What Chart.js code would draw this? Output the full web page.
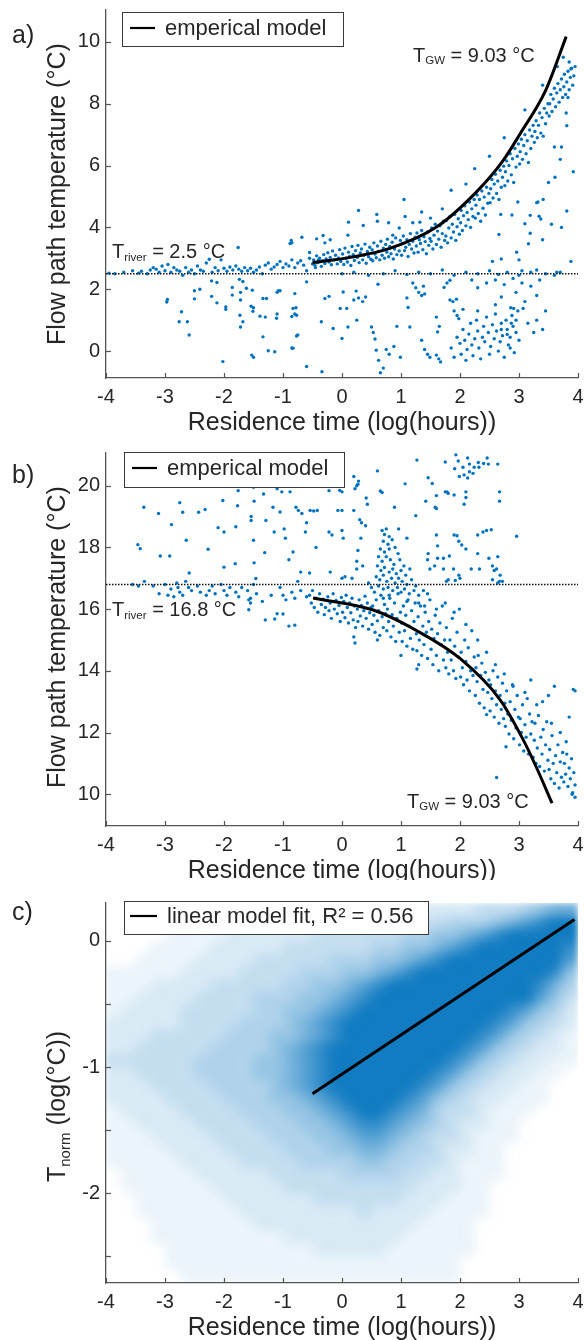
<!DOCTYPE html>
<html>
<head>
<meta charset="utf-8">
<title>Flow path temperature vs residence time</title>
<script src="https://cdn.jsdelivr.net/npm/chart.js@4.4.1/dist/chart.umd.min.js"></script>
<style>
  html, body { margin: 0; padding: 0; background: #fff; }
  body { position: relative; width: 584px; height: 1340px; overflow: hidden; }
  canvas { position: absolute; left: 0; }
</style>
</head>
<body>
<canvas id="chart-a" width="584" height="440" style="top:0px"></canvas>
<canvas id="chart-b" width="584" height="440" style="top:440px"></canvas>
<canvas id="chart-c" width="584" height="460" style="top:880px"></canvas>
<script>
// ---------------- data ----------------

// panel a) : points hugging the river temperature line
const aRiverPts = [[-3.95,2.52],[-3.85,2.5],[-3.7,2.55],[-3.55,2.6],[-3.45,2.52],[-3.4,2.58],[-3.3,2.5],[-3.25,2.62],[-3.2,2.7],[-3.15,2.65],[-3.1,2.55],[-3.05,2.75],[-3.0,2.6],[-2.95,2.8],[-2.9,2.55],[-2.85,2.7],[-2.8,2.62],[-2.75,2.58],[-2.7,2.45],[-2.65,2.7],[-2.6,2.55],[-2.55,2.62],[-2.5,2.5],[-2.45,2.75],[-2.4,2.62],[-2.35,2.58],[-2.3,2.85],[-2.25,2.97],[-2.2,2.55],[-2.15,2.7],[-2.1,2.6],[-2.05,2.95],[-2.0,2.68],[-1.95,2.58],[-1.9,2.72],[-1.85,2.62],[-1.8,2.75],[-1.75,2.65],[-1.7,2.58],[-1.65,2.7],[-1.6,2.6],[-1.55,2.68],[-1.5,2.55],[-1.45,2.62],[-1.4,2.72],[-1.35,2.5],[-1.3,2.78],[-1.25,2.85],[-1.2,2.65],[-1.15,2.72],[-1.1,2.8],[-1.05,2.9],[-1.0,2.7],[-0.95,2.82],[-0.9,2.75],[-0.85,2.95],[-0.8,2.7],[-0.75,2.85],[-0.7,2.92],[-0.65,2.78],[-0.6,2.6],[-0.55,3.0],[-0.5,2.82],[-0.45,2.7],[-0.4,2.95]]

// panel a) : main band just under the model curve
const aBandPts = [[-0.48,2.95],[-0.46,2.78],[-0.43,3.08],[-0.41,2.86],[-0.38,3.0],[-0.35,2.74],[-0.33,2.92],[-0.31,3.12],[-0.29,2.83],[-0.27,2.98],
[-0.24,3.18],[-0.22,2.88],[-0.2,3.03],[-0.18,2.79],[-0.16,3.24],[-0.13,2.95],[-0.11,3.1],[-0.08,2.82],[-0.06,3.01],[-0.04,3.28],[-0.02,2.9],
[0.01,3.14],[0.03,2.8],[0.05,3.33],[0.07,3.0],[0.09,2.88],[0.11,3.2],[0.13,3.06],[0.15,2.77],[0.17,3.38],[0.19,3.12],[0.21,2.93],[0.23,3.25],
[0.26,3.03],[0.27,3.42],[0.29,2.86],[0.31,3.17],[0.33,3.3],[0.35,2.95],[0.37,3.1],[0.39,3.46],[0.41,2.84],[0.43,3.22],[0.45,3.05],[0.47,3.36],[0.49,2.97],
[0.51,3.28],[0.52,2.92],[0.54,3.5],[0.56,3.14],[0.58,3.02],[0.6,3.4],[0.62,3.22],[0.64,2.95],[0.66,3.55],[0.68,3.1],[0.7,3.33],[0.72,3.0],[0.74,3.45],
[0.76,3.2],[0.77,3.62],[0.79,3.05],[0.81,3.38],[0.83,3.15],[0.85,3.52],[0.87,2.98],[0.89,3.3],[0.91,3.66],[0.93,3.12],[0.95,3.42],[0.97,3.24],[0.99,3.58],
[1.01,3.1],[1.02,3.48],[1.04,3.72],[1.06,3.25],[1.08,3.36],[1.1,3.6],[1.12,3.06],[1.14,3.45],[1.16,3.8],[1.18,3.3],[1.2,3.55],[1.22,3.17],[1.24,3.68],
[1.26,3.4],[1.27,3.82],[1.29,3.2],[1.31,3.6],[1.33,3.48],[1.35,3.9],[1.37,3.28],[1.39,3.7],[1.41,3.54],[1.43,3.15],[1.45,3.85],[1.47,3.42],[1.49,3.64],
[1.51,3.55],[1.52,3.98],[1.54,3.3],[1.56,3.75],[1.58,4.1],[1.6,3.45],[1.62,3.88],[1.64,3.62],[1.66,4.05],[1.68,3.36],[1.7,3.8],[1.72,4.18],[1.74,3.58],
[1.76,3.72],[1.77,4.22],[1.79,3.5],[1.81,3.98],[1.83,4.35],[1.85,3.66],[1.87,4.1],[1.89,3.85],[1.91,4.42],[1.93,3.58],[1.95,4.02],[1.97,4.28],[1.99,3.78],
[2.01,4.15],[2.02,4.55],[2.04,3.9],[2.06,4.38],[2.08,4.7],[2.1,4.05],[2.12,4.48],[2.14,4.25],[2.16,4.82],[2.18,4.0],[2.2,4.6],[2.22,4.35],[2.24,4.9],
[2.26,4.3],[2.27,4.72],[2.29,5.05],[2.31,4.45],[2.33,4.9],[2.35,4.2],[2.37,5.18],[2.39,4.62],[2.41,4.98],[2.43,4.4],[2.45,5.3],[2.47,4.78],[2.49,5.1],
[2.51,4.8],[2.52,5.25],[2.54,5.55],[2.56,4.95],[2.58,5.4],[2.6,5.72],[2.62,5.1],[2.64,5.5],[2.66,4.9],[2.68,5.85],[2.7,5.3],[2.72,5.62],[2.74,5.98],
[2.76,5.35],[2.77,5.8],[2.79,6.15],[2.81,5.5],[2.83,6.0],[2.85,6.38],[2.87,5.7],[2.89,6.22],[2.91,5.45],[2.93,6.55],[2.95,5.95],[2.97,6.3],[2.99,6.7],
[3.01,6.05],[3.02,6.45],[3.04,6.85],[3.06,6.2],[3.08,6.65],[3.1,7.0],[3.12,6.38],[3.14,6.8],[3.16,6.1],[3.18,7.15],[3.2,6.55],[3.22,6.95],[3.24,7.3],
[3.26,6.75],[3.27,7.1],[3.29,7.45],[3.31,6.9],[3.33,7.3],[3.35,7.7],[3.37,7.05],[3.39,7.55],[3.41,6.95],[3.43,7.85],[3.45,7.35],[3.47,7.7],[3.49,8.0],
[3.51,7.6],[3.52,8.0],[3.54,8.3],[3.56,7.75],[3.58,8.15],[3.6,8.5],[3.62,7.9],[3.64,8.35],[3.66,8.65],[3.68,8.05],[3.7,8.45],[3.72,8.8],[3.74,8.2],
[3.76,8.55],[3.77,8.95],[3.79,8.3],[3.81,8.7],[3.83,9.05],[3.85,8.45],[3.87,8.85],[3.89,9.15],[3.91,8.6],[3.93,8.9],[3.95,9.2]]

// panel a) : scattered points above the band and right of it
const aAbovePts = [[-1.76,3.35],[-0.88,3.48],[-0.86,3.58],[-0.85,3.5],[-0.68,3.68],[-0.55,3.19],[-0.43,3.63],[-0.32,3.74],[-0.29,3.5],[-0.2,3.6],[0.1,3.75],[0.11,4.17],[0.28,4.55],[0.36,4.06],[0.59,4.42],[0.6,4.2],[0.79,4.15],[0.86,3.75],[0.97,3.98],[1.07,4.35],[1.05,4.9],[1.2,4.15],[1.32,4.17],[1.35,4.5],[1.5,4.3],[1.72,4.2],[1.7,4.6],[1.85,5.2],[2.1,5.4],[2.25,5.9],[2.5,6.3],[2.75,6.9],[3.1,7.8],[3.4,8.6],[3.65,9.2],[3.75,9.5],[3.85,9.35],
[3.88,9.12],[3.83,8.2],[3.8,7.7],[3.81,7.29],[3.6,6.6],[3.72,6.6],[3.7,6.2],[3.61,5.62],[3.5,5.45],[3.92,5.8],[3.81,4.53],[3.41,4.9],[3.3,4.8],[3.32,4.82],[3.19,4.39],[2.98,4.82],[2.88,4.4],[2.69,4.42],[3.34,4.36],[3.37,4.27],[3.1,4.12],[3.19,3.81],[3.16,3.47],[2.66,3.77],[2.96,3.2],[3.0,2.95],[2.7,2.98],[2.55,2.9],[3.55,4.1],[3.72,4.0],[3.4,3.6]]

// panel a) : scattered points below the river line
const aBelowPts = [[-2.97,1.59],[-2.96,1.67],[-2.72,1.27],[-2.76,0.95],[-2.62,0.95],[-2.59,0.52],[-2.5,1.95],[-2.5,1.69],[-2.41,2.0],[-2.21,2.27],[-2.12,2.22],[-2.21,1.77],[-2.12,1.56],[-1.97,1.43],[-1.97,1.35],[-2.02,-0.34],[-1.86,2.06],[-1.86,1.81],[-1.74,2.32],[-1.68,2.25],[-1.62,2.03],[-1.72,1.9],[-1.72,1.65],[-1.73,1.16],[-1.68,0.95],[-1.72,0.78],[-1.54,1.45],[-1.5,1.4],[-1.51,1.29],[-1.52,1.97],[-1.39,1.13],[-1.34,0.46],[-1.53,-0.13],[-1.5,-0.2],[-1.34,1.7],[-1.28,1.7],[-1.3,1.1],[-1.25,0.01],[-1.14,-0.02],[-1.11,1.06],[-1.1,1.2],[-1.1,1.9],[-1.08,1.95],[-1.05,1.95],[-0.85,0.1],[-0.85,1.12],[-0.8,1.2],[-0.78,1.4],[-0.75,0.52],
[-0.6,2.24],[-0.8,1.86],[-0.83,1.38],[-0.77,1.16],[-0.83,0.09],[-0.77,0.49],[-0.6,-0.5],[-0.34,-0.67],[-0.29,1.7],[-0.22,1.77],[-0.35,0.95],[-0.15,0.73],[-0.03,1.38],[0.0,0.41],[0.08,1.38],[0.02,1.91],[0.1,0.78],[0.2,1.65],[0.28,1.72],[0.35,1.6],[0.4,1.75],[0.24,1.94],[0.5,0.78],[0.53,0.6],[0.56,0.39],[0.25,1.0],[0.61,2.16],
[0.58,0.03],[0.62,-0.3],[0.75,0.05],[0.8,-0.1],[0.88,0.15],[0.7,-0.55],[0.65,-0.7],[0.99,-0.2],[0.93,0.8],[1.1,1.72],[1.12,1.41],[1.15,0.78],[1.2,2.2],[1.25,2.05],[1.3,1.9],[1.35,1.8],[1.38,2.1],[1.4,1.85],[1.35,0.35],[1.4,0.05],[1.45,-0.1],[1.49,-0.2],[1.6,1.1],[1.62,0.62],[1.65,0.8],[1.6,-0.13],[1.64,-0.25],[1.67,-0.35],[1.73,2.06],[1.78,2.2],[1.83,2.29],[1.83,1.65],[1.88,1.6],[1.94,1.68],[1.9,1.3],[1.95,1.15],[1.98,1.05],
[1.85,0.1],[1.9,-0.2],[1.95,0.45],[2.0,0.25],[2.02,-0.1],[2.05,0.7],[2.08,0.35],[2.1,-0.3],[2.12,0.05],[2.15,0.55],[2.18,0.9],[2.2,0.2],[2.22,-0.15],[2.25,0.4],[2.28,1.0],[2.3,0.65],[2.32,0.1],[2.35,-0.25],[2.38,0.45],[2.4,0.8],[2.42,0.3],[2.45,1.1],[2.48,0.6],[2.5,-0.1],[2.52,0.15],[2.55,0.85],[2.58,0.4],[2.6,1.2],[2.62,0.65],[2.65,0.0],[2.68,0.3],[2.7,0.9],[2.72,0.5],[2.75,-0.2],[2.78,1.0],[2.8,0.7],[2.82,0.2],[2.85,0.45],[2.88,1.15],[2.9,0.8],[2.92,-0.05],[2.95,0.6],[2.98,1.3],[3.0,0.35],[2.86,1.4],[2.6,1.5],[2.3,1.3],[2.05,1.35],
[3.07,1.38],[2.95,1.0],[2.87,0.9],[2.91,1.38],[2.8,0.54],[2.7,0.7],[2.85,0.1],
[0.0,2.5],[0.2,2.55],[0.45,2.45],[0.7,2.5],[0.9,2.6],[1.1,2.48],[1.3,2.55],[1.5,2.5],[1.7,2.62],[1.9,2.45],[2.1,2.55],[2.3,2.5],[2.5,2.6],[2.65,2.48],[2.8,2.55],[3.0,2.45],[3.2,2.55],[3.45,2.5],[3.6,2.45],[3.05,2.6],[3.3,2.62],[3.64,2.55],[3.88,2.9],[3.7,2.55],
[2.6,2.3],[2.75,2.15],[2.9,2.35],[3.05,2.2],[3.2,2.1],[3.35,2.3],[2.45,2.2],[2.3,2.05],[2.2,2.3],[3.3,1.8],[3.1,1.6],[2.95,1.9],[2.7,1.75],[3.45,1.3],[3.3,1.0],[3.25,0.6],[3.15,0.9],[3.4,0.7]]

const aModelX = [-0.5, 0.14, 0.81, 1.6, 2.28, 2.73, 3.02, 3.45, 3.8]
const aModelY = [2.86, 3.03, 3.32, 4.01, 5.15, 6.16, 7.03, 8.42, 10.17]
const aRiverT = 2.5

// panel b) : points near the river temperature line
const bRiverPts = [[-3.55,16.8],[-3.45,16.75],[-3.35,16.9],[-3.2,16.75],[-3.1,16.5],[-3.0,16.8],[-2.95,16.45],[-2.9,16.65],[-2.85,16.4],[-2.8,16.85],[-2.78,16.7],[-2.75,16.55],[-2.7,16.45],[-2.65,16.9],[-2.6,16.7],[-2.55,16.6],[-2.45,16.75],[-2.4,16.55],[-2.3,16.45],[-2.25,16.6],[-2.2,16.75],[-2.15,16.5],[-2.05,16.8],[-2.0,16.6],[-1.95,16.45],[-1.9,16.7],[-1.8,16.55],[-1.75,16.4],[-1.7,16.7],[-1.6,16.6],[-1.55,16.35],[-1.5,16.8],[-1.45,16.5],[-1.35,16.25],[-1.3,15.65],[-1.2,16.45],[-1.1,15.85],[-1.05,16.7],[-1.0,16.45],[-0.95,16.3],[-0.9,15.45],[-0.85,16.55],[-0.8,16.35],[-0.75,16.9],[-0.7,16.6],[-0.6,16.4],[-1.58,16.3],[-1.55,16.2],[-1.58,15.98],[-0.8,15.48],[-1.14,15.68],[-1.0,15.84]]

// panel b) : scattered points above the river line
const bAbovePts = [[-3.46,18.09],[-3.42,17.96],[-3.36,19.3],[-3.11,19.1],[-3.08,17.72],[-2.92,17.72],[-2.89,18.74],[-2.75,19.45],[-2.7,19.14],[-2.64,18.23],[-2.59,17.17],[-2.43,19.14],[-2.32,19.23],[-2.27,17.94],[-2.1,18.64],[-2.02,19.52],[-2.0,17.36],[-2.0,18.5],[-1.81,17.47],[-1.8,18.67],[-1.77,19.35],[-1.76,19.84],[-1.54,19.0],[-1.54,18.87],[-1.5,18.23],[-1.49,19.5],[-1.5,19.95],[-1.49,17.5],[-1.46,16.99],[-1.31,17.83],[-1.29,18.87],[-1.33,19.73],[-1.17,19.3],[-1.16,20.1],[-1.15,18.5],[-1.1,19.9],[-1.05,19.15],[-1.02,19.8],[-0.98,18.6],[-0.96,18.3],[-0.83,17.85],[-0.78,19.3],
[1.27,20.83],[1.75,20.77],[1.93,21.0],[1.97,20.8],[2.05,20.6],[2.13,20.9],[2.16,20.7],[2.24,20.6],[2.31,20.75],[2.32,20.6],[2.4,20.72],[2.46,20.9],[2.48,20.7],[2.64,20.7],[1.91,20.55],[1.99,20.3],[2.07,20.35],[2.16,20.45],[2.22,20.4],[2.13,20.25],[0.6,20.48],[0.2,20.3],[0.28,20.15],[0.25,20.0],[0.22,19.9],[0.27,20.05],[-0.22,19.84],[-0.04,19.85],[0.0,19.8],[1.07,20.06],[1.46,20.26],[1.53,20.07],[0.65,19.83],[0.68,19.78],[1.75,19.8],[1.78,19.8],[1.8,19.75],[1.6,19.68],[1.58,19.3],[1.6,19.26],[1.9,19.7],[2.1,19.8],[2.1,19.62],[2.07,19.4],[2.67,19.8],[2.67,19.5],[1.42,19.5],[0.41,19.6],[0.43,19.4],[-0.88,19.8],[-0.74,19.2],[-0.68,19.1],[-0.54,19.2],[-0.48,19.18],[-0.42,19.2],[-0.07,19.2],[0.0,19.2],[0.2,19.2],[0.89,19.3],[1.25,19.03],
[0.3,18.9],[0.33,18.8],[0.4,18.7],[-0.6,18.8],[-0.62,18.5],[-0.22,18.5],[-0.17,18.4],[0.0,18.55],[0.02,18.3],[0.32,18.3],[0.96,18.6],[1.6,18.4],[1.62,18.05],[1.9,18.4],[1.95,18.38],[1.98,18.2],[2.03,18.08],[2.1,17.95],[2.3,18.4],[2.39,18.5],[2.45,18.55],[2.53,18.57],[2.96,18.36],[-0.7,17.2],[-0.55,17.17],[-0.9,17.6],[-0.44,18.0],[-0.2,17.2],[0.0,17.0],[0.05,17.05],[0.17,17.0],[0.25,17.3],[0.35,17.4],[0.25,17.55],[0.27,17.9],[1.1,18.3],[1.46,17.8],[1.45,17.6],[1.62,17.65],[1.72,17.65],[1.82,17.72],[1.57,17.4],[1.49,17.3],[1.72,17.3],[1.89,17.3],[1.98,17.1],[2.0,17.0],[1.8,16.95],[1.77,16.9],[1.92,16.93],[2.3,17.8],[2.33,17.3],[2.19,17.3],[2.55,17.4],[2.58,17.25],[2.62,17.3],[2.68,17.1],[2.72,16.9],[2.49,17.65],[2.64,17.7],[2.55,16.95],[2.64,16.85],[2.67,16.9]]

// panel b) : the vertical plume around 0.5 - 1.3
const bSpikePts = [[0.68,18.55],[0.72,18.42],[0.75,18.6],[0.8,18.35],[0.7,18.2],[0.78,18.1],[0.85,18.25],[0.65,17.95],[0.72,17.85],[0.8,17.95],[0.9,18.0],[0.95,17.8],[0.62,17.7],[0.68,17.55],[0.75,17.7],[0.82,17.6],[0.88,17.45],[0.98,17.6],[1.05,17.4],[0.6,17.4],[0.66,17.25],[0.72,17.35],[0.8,17.2],[0.86,17.3],[0.92,17.15],[1.0,17.25],[1.08,17.1],[1.15,17.3],[0.58,17.05],[0.64,16.95],[0.7,17.1],[0.76,16.9],[0.84,17.0],[0.9,16.85],[0.96,17.0],[1.02,16.9],[1.1,16.8],[1.18,16.95],[1.25,16.75],[0.62,16.75],[0.7,16.65],[0.78,16.7],[0.86,16.6],[0.94,16.7],[1.0,16.55],[1.06,16.65],[1.14,16.5],[1.22,16.6],[1.3,16.45],[1.38,16.6],[1.45,16.5],[0.55,16.55],[0.5,16.7],[0.45,16.85]]

// panel b) : main band along the model curve
const bBandPts = [[-0.55,16.45],[-0.52,16.2],[-0.5,16.6],[-0.47,16.05],[-0.44,16.35],[-0.41,15.9],[-0.38,16.5],[-0.35,16.15],[-0.32,16.32],[-0.3,15.82],[-0.28,16.05],
[-0.24,16.4],[-0.22,15.95],[-0.2,16.2],[-0.18,15.7],[-0.15,16.5],[-0.13,16.0],[-0.1,16.28],[-0.08,15.85],[-0.05,16.12],[-0.03,15.6],[-0.01,16.38],
[0.01,15.9],[0.03,16.25],[0.05,15.72],[0.07,16.45],[0.09,16.05],[0.11,15.55],[0.13,16.2],[0.15,15.88],[0.17,16.35],[0.19,15.65],[0.21,16.1],[0.23,15.4],
[0.26,16.0],[0.27,15.6],[0.29,16.3],[0.31,15.78],[0.33,16.12],[0.35,15.45],[0.37,15.95],[0.39,16.42],[0.41,15.7],[0.43,16.2],[0.45,15.35],[0.47,15.88],[0.49,16.05],
[0.51,15.5],[0.52,16.1],[0.54,15.8],[0.56,15.25],[0.58,16.3],[0.6,15.62],[0.62,15.95],[0.64,15.15],[0.66,16.45],[0.68,15.75],[0.7,15.4],[0.72,16.15],[0.74,15.85],
[0.76,15.3],[0.77,16.0],[0.79,15.6],[0.81,16.35],[0.83,15.1],[0.85,15.82],[0.87,15.45],[0.89,16.2],[0.91,14.95],[0.93,15.7],[0.95,16.5],[0.97,15.25],[0.99,15.9],
[1.01,15.55],[1.02,14.95],[1.04,16.1],[1.06,15.3],[1.08,15.8],[1.1,14.8],[1.12,16.3],[1.14,15.45],[1.16,15.05],[1.18,15.95],[1.2,14.7],[1.22,15.6],[1.24,16.2],
[1.26,15.2],[1.27,14.65],[1.29,15.75],[1.31,15.0],[1.33,16.1],[1.35,14.5],[1.37,15.45],[1.39,14.85],[1.41,15.9],[1.43,15.25],[1.45,14.4],[1.47,15.6],[1.49,16.3],
[1.51,14.7],[1.52,15.35],[1.54,14.2],[1.56,15.05],[1.58,15.8],[1.6,14.5],[1.62,15.2],[1.64,14.0],[1.66,15.55],[1.68,14.85],[1.7,16.1],[1.72,14.35],[1.74,15.0],
[1.76,14.1],[1.77,15.4],[1.79,14.6],[1.81,13.9],[1.83,15.0],[1.85,14.35],[1.87,15.7],[1.89,14.0],[1.91,14.8],[1.93,13.75],[1.95,15.25],[1.97,14.45],[1.99,16.0],
[2.01,13.8],[2.02,14.6],[2.04,14.1],[2.06,13.55],[2.08,15.0],[2.1,14.3],[2.12,13.7],[2.14,14.75],[2.16,13.35],[2.18,14.0],[2.2,15.3],[2.22,13.85],[2.24,14.45],
[2.26,13.2],[2.27,14.1],[2.29,13.65],[2.31,14.5],[2.33,12.95],[2.35,13.85],[2.37,14.25],[2.39,13.4],[2.41,12.8],[2.43,13.95],[2.45,14.6],[2.47,13.3],[2.49,13.7],
[2.51,12.7],[2.52,13.55],[2.54,13.1],[2.56,14.0],[2.58,12.5],[2.6,13.35],[2.62,12.9],[2.64,13.8],[2.66,12.3],[2.68,13.2],[2.7,12.75],[2.72,13.6],[2.74,12.45],
[2.76,12.95],[2.77,12.2],[2.79,13.35],[2.81,12.6],[2.83,11.95],[2.85,13.0],[2.87,12.4],[2.89,13.55],[2.91,11.8],[2.93,12.75],[2.95,12.15],[2.97,13.2],[2.99,12.5],
[3.01,11.6],[3.02,12.45],[3.04,12.0],[3.06,12.9],[3.08,11.4],[3.1,12.25],[3.12,11.85],[3.14,13.1],[3.16,11.3],[3.18,12.6],[3.2,11.95],[3.22,12.35],[3.24,11.2],
[3.26,11.75],[3.27,12.3],[3.29,11.0],[3.31,11.5],[3.33,12.55],[3.35,10.9],[3.37,11.85],[3.39,11.3],[3.41,12.1],[3.43,10.75],[3.45,11.6],[3.47,12.35],[3.49,11.1],
[3.51,10.8],[3.52,11.45],[3.54,10.5],[3.56,11.9],[3.58,11.0],[3.6,10.35],[3.62,11.25],[3.64,10.7],[3.66,11.6],[3.68,10.2],[3.7,11.05],[3.72,10.55],[3.74,11.35],
[3.76,10.4],[3.77,11.0],[3.79,10.65],[3.81,11.3],[3.83,10.25],[3.85,10.85],[3.87,10.5],[3.89,11.15],[3.91,10.05],[3.93,10.7],[3.95,10.3],
[3.55,12.3],[3.7,12.0],[3.8,11.7],[3.92,13.4],[3.95,13.35],[3.85,12.5],[3.6,13.5],[3.5,13.2],[3.9,10.0],[3.95,9.9],[3.1,13.3],[3.3,12.9],[3.2,13.7],[3.4,13.0],[2.6,14.2],[2.75,13.9],[2.9,13.5],[0.2,15.1],[0.22,14.9],[1.0,14.5],[1.3,14.2],[0.6,15.0],[1.27,14.06],[2.45,12.58],[2.62,10.54],[2.78,11.54],[2.3,15.0],[2.1,15.5],[1.6,16.0],[1.75,16.2],[1.9,15.9],[1.1,16.25],[1.3,16.2],[1.4,16.1],[0.7,16.35],[0.8,16.45]]

const bModelX = [-0.49, 0.53, 1.27, 2.0, 2.68, 3.07, 3.3, 3.56]
const bModelY = [16.36, 15.97, 15.3, 14.4, 13.06, 11.77, 10.85, 9.71]
const bRiverT = 16.8

// panel c) : point density per cell (0 = empty ... 9 = solid), rows top to bottom
const cColX = [-3.875,-3.625,-3.375,-3.125,-2.875,-2.625,-2.375,-2.125,-1.875,-1.625,-1.375,-1.125,-0.875,-0.625,-0.375,-0.125,0.125,0.375,0.625,0.875,1.125,1.375,1.625,1.875,2.125,2.375,2.625,2.875,3.125,3.375,3.625,3.875]
const cRowY = [0.25,0.15,0.05,-0.05,-0.15,-0.25,-0.35,-0.45,-0.55,-0.65,-0.75,-0.85,-0.95,-1.05,-1.15,-1.25,-1.35,-1.45,-1.55,-1.65,-1.75,-1.85,-1.95,-2.05,-2.15,-2.25,-2.35,-2.45,-2.55,-2.65]
const cDensity = [
  "00000001111111111122222223334566",
  "00000111112222222233333444567899",
  "00001111222222333333445567899999",
  "00011112222233333344556789999998",
  "00111122223333344455678999999997",
  "11111222233334445567899999999985",
  "11122223333344556789999999999864",
  "11222233334445567899999999999753",
  "12222333334455678999999999987542",
  "22222333344456789999999999875432",
  "22233333444556789999999998754321",
  "22333334444567899999999987543221",
  "33333344445567899999999875432211",
  "22333344445567899999998754322110",
  "22233334444567899999987543221100",
  "22223333444556789999875432211100",
  "12222333344455678998764332111000",
  "11222233334445567887654322110000",
  "11122223333444556776543321110000",
  "11112222333344455665443221100000",
  "11111222233334444554433211100000",
  "01111122222333334444332211100000",
  "01111112222233333333322211000000",
  "00111111222222333333222111000000",
  "00111111122222222322221111000000",
  "00011111112222222222211110000000",
  "00011111111122222222111110000000",
  "00001111111111222221111110000000",
  "00001111111111111111111100000000",
  "00000111111111111111111100000000"
]
const cFitX = [-0.5, 3.94]
const cFitY = [-1.21, 0.17]

// ---------------- styling ----------------
const FONT = '"Liberation Sans", Arial, Helvetica, sans-serif'
const BLUE = "#0072BD"
const AXIS = "#555555"
const INK = "#262626"
const cellAlpha = [0, 0.08, 0.15, 0.23, 0.31, 0.41, 0.53, 0.66, 0.8, 0.93]

Chart.defaults.font.family = FONT
Chart.defaults.color = INK

const toXY = (pts) => pts.map((p) => ({ x: p[0], y: p[1] }))
const zipXY = (xs, ys) => xs.map((x, i) => ({ x: x, y: ys[i] }))

function drawParts(ctx, x, y, parts) {
  // parts: [text, size, baselineShift]
  parts.forEach((p) => {
    ctx.font = p[1] + "px " + FONT
    ctx.fillText(p[0], x, y + (p[2] || 0))
    x += ctx.measureText(p[0]).width
  })
}

// density cells rendered one pixel per cell, then stretched over the scales
function densityImage() {
  const off = document.createElement("canvas")
  off.width = cColX.length
  off.height = cRowY.length
  const octx = off.getContext("2d")
  const img = octx.createImageData(off.width, off.height)
  cRowY.forEach((ry, r) => {
    cColX.forEach((cx, c) => {
      const a = cellAlpha[+cDensity[r][c]]
      const k = (r * off.width + c) * 4
      img.data[k] = 0; img.data[k + 1] = 114; img.data[k + 2] = 189
      img.data[k + 3] = Math.round(a * 255)
    })
  })
  octx.putImageData(img, 0, 0)
  return off
}

var decor = {
  id: "decor",
  beforeDatasetsDraw(chart, args, opts) {
    if (!opts.density) return
    const { ctx, chartArea, scales: { x, y } } = chart
    const cw = cColX[1] - cColX[0], rh = cRowY[0] - cRowY[1]
    const x0 = x.getPixelForValue(cColX[0] - cw / 2)
    const x1 = x.getPixelForValue(cColX[cColX.length - 1] + cw / 2)
    const y0 = y.getPixelForValue(cRowY[0] + rh / 2)
    const y1 = y.getPixelForValue(cRowY[cRowY.length - 1] - rh / 2)
    ctx.save()
    ctx.beginPath()
    ctx.rect(chartArea.left, chartArea.top, chartArea.width, chartArea.height)
    ctx.clip()
    ctx.imageSmoothingEnabled = true
    ctx.imageSmoothingQuality = "high"
    ctx.filter = "blur(3px)"
    ctx.drawImage(densityImage(), x0, y0, x1 - x0, y1 - y0)
    ctx.restore()
  },
  afterDraw(chart, args, opts) {
    const { ctx, chartArea: a, scales: { x, y } } = chart
    ctx.save()
    // inward tick marks
    ctx.strokeStyle = AXIS
    ctx.lineWidth = 1.2
    x.ticks.forEach((t) => {
      const px = Math.round(x.getPixelForValue(t.value)) + 0.5
      ctx.beginPath(); ctx.moveTo(px, a.bottom); ctx.lineTo(px, a.bottom - 5); ctx.stroke()
    })
    y.ticks.forEach((t) => {
      const py = Math.round(y.getPixelForValue(t.value)) + 0.5
      ctx.beginPath(); ctx.moveTo(a.left, py); ctx.lineTo(a.left + 5, py); ctx.stroke()
    })
    // legend box
    const lg = opts.legend
    ctx.fillStyle = "#fff"
    ctx.fillRect(lg.box[0], lg.box[1], lg.box[2], lg.box[3])
    ctx.strokeStyle = "#3a3a3a"
    ctx.lineWidth = 1
    ctx.strokeRect(lg.box[0] + 0.5, lg.box[1] + 0.5, lg.box[2], lg.box[3])
    ctx.strokeStyle = "#000"
    ctx.lineWidth = 2.2
    ctx.beginPath(); ctx.moveTo(lg.line[0], lg.line[2]); ctx.lineTo(lg.line[1], lg.line[2]); ctx.stroke()
    ctx.fillStyle = INK
    ctx.font = "22px " + FONT
    ctx.textBaseline = "middle"
    ctx.fillText(lg.text, lg.textX, lg.line[2] + 1)
    // free texts
    ctx.textBaseline = "alphabetic"
    ctx.textAlign = "left"
    opts.texts.forEach((t) => {
      ctx.save()
      ctx.translate(t.x, t.y)
      if (t.rotate) ctx.rotate(-Math.PI / 2)
      if (t.center) {
        let w = 0
        t.parts.forEach((p) => { ctx.font = p[1] + "px " + FONT; w += ctx.measureText(p[0]).width })
        drawParts(ctx, -w / 2, 0, t.parts)
      } else {
        drawParts(ctx, 0, 0, t.parts)
      }
      ctx.restore()
    })
    ctx.restore()
  }
}

function makeChart(id, cfg) {
  const ctx = document.getElementById(id).getContext("2d")
  return new Chart(ctx, {
    type: "scatter",
    data: { datasets: cfg.datasets },
    options: {
      responsive: false,
      animation: false,
      events: [],
      layout: { padding: { top: cfg.top, right: 6, left: 0, bottom: 0 } },
      plugins: { legend: { display: false }, tooltip: { enabled: false }, decor: cfg.decor },
      scales: {
        x: {
          type: "linear", min: -4, max: 4,
          ticks: { stepSize: 1, autoSkip: false, maxRotation: 0, includeBounds: false, padding: 7, font: { size: 20 }, color: INK },
          grid: { display: false, drawTicks: false },
          border: { display: true, color: AXIS, width: 1.3 },
          afterFit(s) { s.height = cfg.height - cfg.bottom; s.paddingLeft = 0; s.paddingRight = 0 }
        },
        y: {
          type: "linear", min: cfg.yMin, max: cfg.yMax,
          ticks: {
            stepSize: cfg.yStep, includeBounds: false, padding: 6, font: { size: 20 }, color: INK,
            callback: (v) => (Number.isInteger(v) ? v : "")
          },
          grid: { display: false, drawTicks: false },
          border: { display: true, color: AXIS, width: 1.3 },
          afterFit(s) { s.width = 106; s.paddingTop = 0; s.paddingBottom = 0 }
        }
      }
    },
    plugins: [decor]
  })
}

const xTitle = (yBase) => ({ x: 342, y: yBase, center: true, parts: [["Residence time (log(hours))", 25]] })
const lineSet = (data, opts) => Object.assign({
  type: "line", data: data, borderColor: "#000", borderWidth: 3, pointRadius: 0,
  fill: false, cubicInterpolationMode: "monotone"
}, opts)
const dotSet = (data, r) => ({ data: data, backgroundColor: BLUE, borderWidth: 0, pointRadius: r })

makeChart("chart-a", {
  top: 10, bottom: 378, height: 440, yMin: -0.87, yMax: 11.03, yStep: 2,
  datasets: [
    lineSet(zipXY(aModelX, aModelY)),
    lineSet([{ x: -4, y: aRiverT }, { x: 4, y: aRiverT }], { borderWidth: 1.5, borderDash: [1.5, 1.5], borderColor: "#111" }),
    dotSet(toXY(aRiverPts.concat(aBandPts, aAbovePts, aBelowPts)), 1.7)
  ],
  decor: {
    legend: { box: [122, 12, 221, 34], line: [130, 155, 28], text: "emperical model", textX: 165 },
    texts: [
      { x: 12, y: 43, parts: [["a)", 25]] },
      { x: 413, y: 62, parts: [["T", 20], ["GW", 11.5, 2], [" = 9.03 °C", 20]] },
      { x: 112, y: 258, parts: [["T", 20], ["river", 11.5, 3], [" = 2.5 °C", 20]] },
      { x: 65, y: 345, rotate: true, parts: [["Flow path temperature (°C)", 25]] },
      xTitle(430)
    ]
  }
})

makeChart("chart-b", {
  top: 13, bottom: 386, height: 440, yMin: 8.97, yMax: 21.06, yStep: 2,
  datasets: [
    lineSet(zipXY(bModelX, bModelY)),
    lineSet([{ x: -4, y: bRiverT }, { x: 4, y: bRiverT }], { borderWidth: 1.5, borderDash: [1.5, 1.5], borderColor: "#111" }),
    dotSet(toXY(bRiverPts.concat(bAbovePts, bSpikePts, bBandPts)), 1.7)
  ],
  decor: {
    legend: { box: [124, 12, 220, 35], line: [132, 157, 28], text: "emperical model", textX: 167 },
    texts: [
      { x: 12, y: 43, parts: [["b)", 25]] },
      { x: 112, y: 176, parts: [["T", 20], ["river", 11.5, 3], [" = 16.8 °C", 20]] },
      { x: 407, y: 368, parts: [["T", 20], ["GW", 11.5, 2], [" = 9.03 °C", 20]] },
      { x: 65, y: 348, rotate: true, parts: [["Flow path temperature (°C)", 25]] },
      xTitle(438)
    ]
  }
})

makeChart("chart-c", {
  top: 23, bottom: 403, height: 460, yMin: -2.71, yMax: 0.3, yStep: 0.5,
  datasets: [
    lineSet(zipXY(cFitX, cFitY), { cubicInterpolationMode: "default", tension: 0 })
  ],
  decor: {
    density: true,
    legend: { box: [124, 21, 304, 33], line: [130, 157, 36], text: "linear model fit, R² = 0.56", textX: 167 },
    texts: [
      { x: 12, y: 40, parts: [["c)", 25]] },
      { x: 65, y: 302, rotate: true, parts: [["T", 25], ["norm", 15, 5], [" (log(°C))", 25]] },
      xTitle(455)
    ]
  }
})
</script>
</body>
</html>
